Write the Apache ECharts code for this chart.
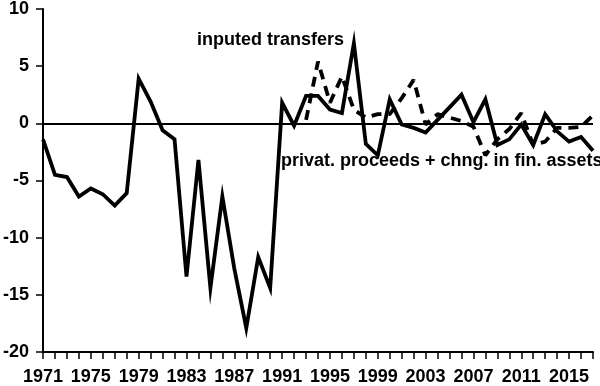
<!DOCTYPE html>
<html>
<head>
<meta charset="utf-8">
<script src="https://cdn.jsdelivr.net/npm/echarts@6/dist/echarts.min.js"></script>
<style>html,body{margin:0;padding:0;background:#fff}#c{width:600px;height:386px}</style>
</head>
<body>
<div id="c"></div>
<script>
const years = [];
for (let y = 1971; y <= 2017; y++) years.push(String(y));

const privatProceeds = [
  -1.4, -4.5, -4.7, -6.4, -5.7, -6.2, -7.2, -6.1, 3.9, 1.9,
  -0.6, -1.4, -13.4, -3.2, -14.4, -6.4, -12.7, -17.9, -11.7, -14.4,
  1.8, -0.2, 2.4, 2.4, 1.2, 0.9, 7.0, -1.8, -2.8, 2.1,
  -0.1, -0.4, -0.8, 0.3, 1.4, 2.5, 0.1, 2.1, -1.9, -1.4,
  -0.1, -1.9, 0.8, -0.7, -1.6, -1.2, -2.4
];

const inputedTransfers = [
  null, null, null, null, null, null, null, null, null, null,
  null, null, null, null, null, null, null, null, null, null,
  null, null, 0.3, 5.4, 1.8, 4.1, 1.2, 0.5, 0.8, 0.8,
  2.2, 3.8, -0.1, 0.8, 0.5, 0.2, -0.3, -2.8, -1.4, -0.5,
  0.9, -1.9, -1.6, -0.4, -0.4, -0.3, 0.7
];

const yTicks = { min: -20, max: 10, interval: 5 };
const labelTop = 'inputed transfers';
const labelBottom = 'privat. proceeds + chng. in fin. assets';

const FONT = '"Liberation Sans", Arial, Helvetica, sans-serif';
const chart = echarts.init(document.getElementById('c'), null, { renderer: 'canvas' });
chart.setOption({
  animation: false,
  backgroundColor: '#fff',
  grid: { left: 40, right: 7, top: 5, bottom: 33, containLabel: false },
  xAxis: {
    type: 'category',
    data: years,
    boundaryGap: false,
    axisLine: { onZero: false, lineStyle: { color: '#000', width: 2 } },
    axisTick: { show: true, interval: 0, length: 7, lineStyle: { color: '#000', width: 1.5 } },
    axisLabel: { interval: 3, color: '#000', fontFamily: FONT, fontWeight: 'bold', fontSize: 18, margin: 16 },
    splitLine: { show: false }
  },
  yAxis: {
    type: 'value',
    min: yTicks.min, max: yTicks.max, interval: yTicks.interval,
    axisLine: { show: true, lineStyle: { color: '#000', width: 2 } },
    axisTick: { show: true, length: 7, lineStyle: { color: '#000', width: 1.5 } },
    axisLabel: { color: '#000', fontFamily: FONT, fontWeight: 'bold', fontSize: 18, margin: 14 },
    splitLine: { show: false }
  },
  series: [
    {
      type: 'line',
      data: privatProceeds,
      symbol: 'none',
      lineStyle: { color: '#000', width: 3.8, join: 'miter' },
      markLine: {
        silent: true,
        symbol: ['none', 'none'],
        label: { show: false },
        lineStyle: { color: '#000', width: 2, type: 'solid' },
        data: [{ yAxis: 0 }]
      },
      z: 3
    },
    {
      type: 'line',
      data: inputedTransfers,
      symbol: 'none',
      connectNulls: false,
      lineStyle: { color: '#000', width: 3.8, type: [10, 7] },
      z: 2
    }
  ],
  graphic: [
    { type: 'text', left: 197, top: 31, style: { text: labelTop, fill: '#000', font: 'bold 18px ' + FONT } },
    { type: 'text', left: 281, top: 152, style: { text: labelBottom, fill: '#000', font: 'bold 18px ' + FONT } }
  ]
});
</script>
</body>
</html>
